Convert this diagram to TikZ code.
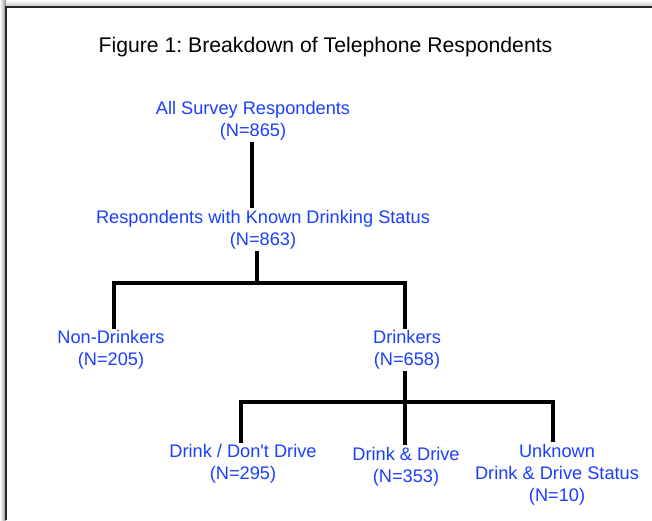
\documentclass[tikz,border=0pt]{standalone}
\usepackage{fontspec}
\setmainfont{Liberation Sans}
\definecolor{labelblue}{RGB}{28,62,255}
\frenchspacing
\begin{document}
\begin{tikzpicture}[x=1pt,y=-1pt,
  lab/.style={text=labelblue, font=\fontsize{18.2}{22}\selectfont, align=center, inner sep=1.5pt},
  conn/.style={line width=3.3pt, line cap=butt, line join=miter}]
\useasboundingbox (0,0) rectangle (652,520);
% frame with shadow
\shade[left color=white, right color=black!45] (0,0) rectangle (6,520);
\shade[top color=white, bottom color=black!25] (6,0) rectangle (652,7);
\fill[white] (6,7) rectangle (652,520);
\draw[line width=1.3pt, black!85] (6,520) -- (6,7) -- (652,7);
% title
\node[font=\fontsize{21.2}{25}\selectfont, inner sep=0pt] (title) at (325.5,47) {Figure 1: Breakdown of Telephone Respondents};
% nodes
\node[lab] (A) at (253,120.5) {All Survey Respondents\\(N=865)};
\node[lab] (B) at (263,229.5) {Respondents with Known Drinking Status\\(N=863)};
\node[lab] (N) at (111,350) {Non-Drinkers\\(N=205)};
\node[lab] (D) at (407,350) {Drinkers\\(N=658)};
\node[lab] (DN) at (243,464) {Drink / Don\textquotesingle t Drive\\(N=295)};
\node[lab] (DD) at (406,466.5) {Drink \& Drive\\(N=353)};
\node[lab] (U) at (557,474.5) {Unknown\\Drink \& Drive Status\\(N=10)};
% junction coordinates
\coordinate (a1) at (252,0);
\coordinate (j1) at (257,283);
\coordinate (l1) at (114,283);
\coordinate (r1) at (405,283);
\coordinate (l2) at (241,402);
\coordinate (r2) at (553,402);
% connectors
\draw[conn] (A.south -| a1) -- (B.north -| a1);
\draw[conn] (B.south -| j1) -- (j1);
\draw[conn] (N.north -| l1) -- (l1) -- (r1) -- (D.north -| r1);
\draw[conn] (D.south -| r1) -- (DD.north -| r1);
\draw[conn] (DN.north -| l2) -- (l2) -- (r2) -- (U.north -| r2);
\end{tikzpicture}
\end{document}
